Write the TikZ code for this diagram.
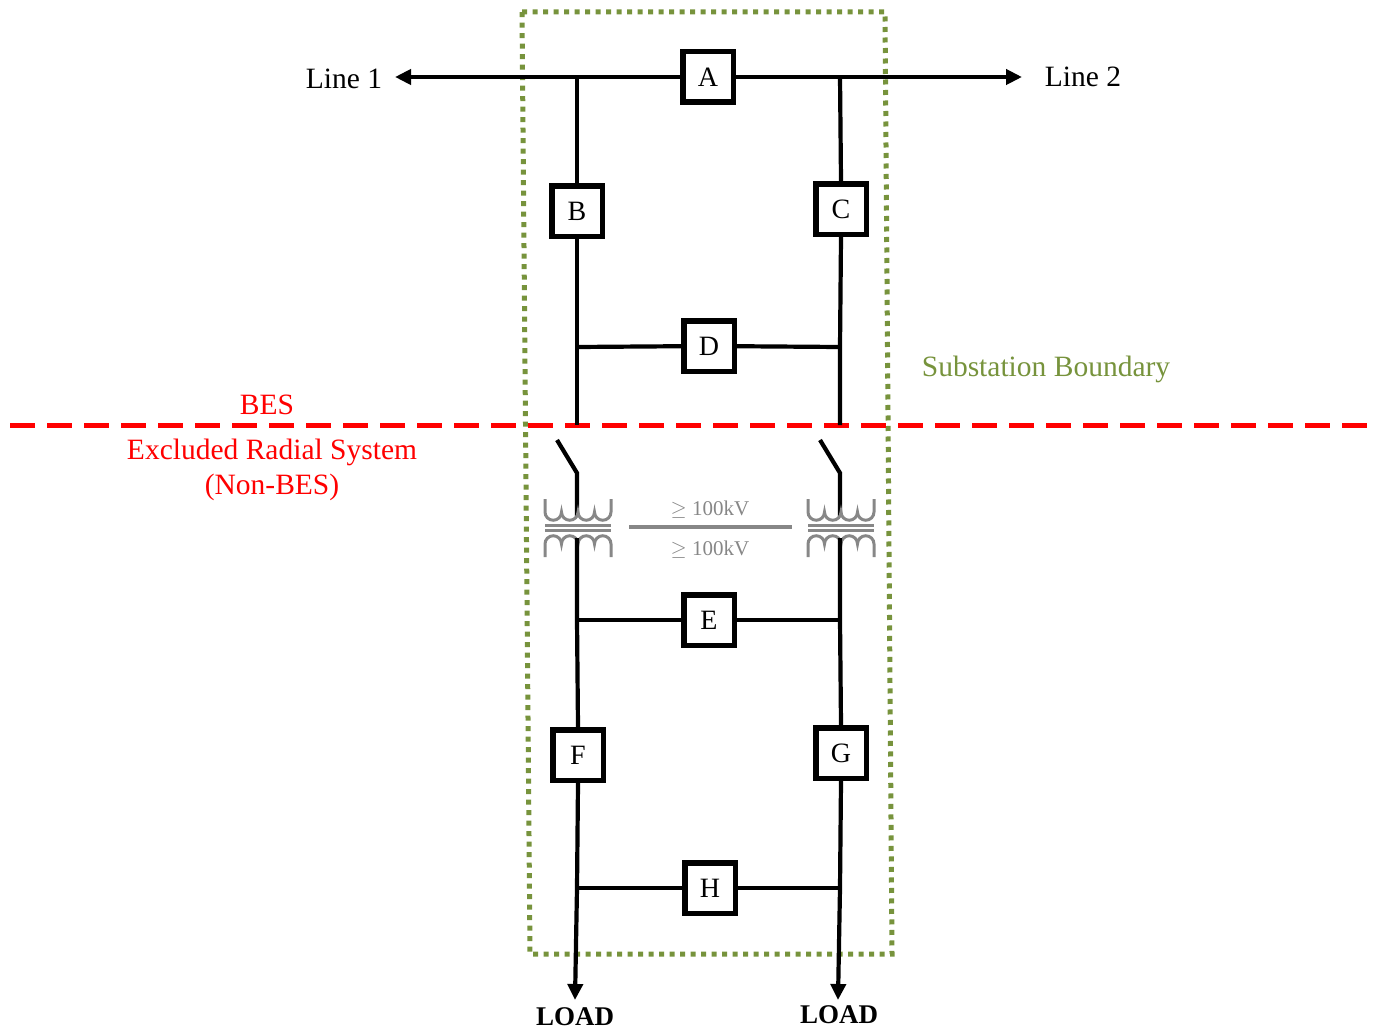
\documentclass[tikz,border=0pt]{standalone}
\usepackage{fontspec}
\setmainfont{Liberation Serif}
\usetikzlibrary{arrows.meta}
\definecolor{subgreen}{RGB}{119,147,60}
\definecolor{xfgray}{RGB}{135,135,135}
\tikzset{
  wire/.style={line width=4.2pt},
  arr/.style={wire,-{Triangle[length=16pt,width=15pt]}},
  brk/.style={draw,line width=5.5pt,minimum size=50.5pt,inner sep=0pt,font=\fontsize{28}{30}\selectfont},
  lbl/.style={font=\fontsize{29.5}{32}\selectfont}
}
\newcommand{\brkr}[4]{\node[brk] (#1) at ( #2 , #3 ) {#4};}
\newcommand{\jnct}[3]{\coordinate (#1) at ( #2 , #3 );}
\newcommand{\xfmr}[2]{\begin{scope}[shift={( #1 , #2 )},xfgray,line width=3pt]
  \draw (-33,28.5) -- (-33,15.5) arc(180:360:8.25) arc(180:360:8.25) arc(180:360:8.25) arc(180:360:8.25) -- (33,28.5);
  \draw (-33,-29.5) -- (-33,-16.5) arc(180:0:8.25) arc(180:0:8.25) arc(180:0:8.25) arc(180:0:8.25) -- (33,-29.5);
  \draw (-33,2.5) -- (33,2.5);
  \draw (-33,-2.5) -- (33,-2.5);
\end{scope}}

\begin{document}
\begin{tikzpicture}[x=1pt,y=1pt]
\useasboundingbox (0,0) rectangle (1380,-1030);
% substation boundary and BES line
\draw[subgreen,line width=5pt,dash pattern=on 5pt off 5.5pt] (522,-12) -- (885,-12) -- (892,-954) -- (530,-954) -- cycle;
\draw[red,line width=5pt,dash pattern=on 25pt off 12pt] (10,-425) -- (1378,-425);
% breakers
\brkr{A}{708}{-77}{A}
\brkr{B}{577}{-211}{B}
\brkr{C}{841}{-209}{C}
\brkr{D}{709}{-346}{D}
\brkr{E}{709}{-620}{E}
\brkr{F}{578}{-755}{F}
\brkr{G}{841}{-753}{G}
\brkr{H}{710}{-888}{H}
% junctions, left side
\jnct{j1}{577}{-77}
\jnct{d1}{577}{-347}
\jnct{b1}{577}{-425}
\jnct{s1}{557}{-440}
\jnct{t1}{577}{-473}
\jnct{u1}{577}{-517}
\jnct{v1}{577}{-538}
\jnct{e1}{577}{-620}
\jnct{h1}{577}{-888}
\jnct{o1}{575}{-1000}
% junctions, right side
\jnct{j2}{840}{-77}
\jnct{d2}{840}{-347}
\jnct{b2}{840}{-425}
\jnct{s2}{820}{-440}
\jnct{t2}{840}{-473}
\jnct{u2}{840}{-517}
\jnct{v2}{840}{-538}
\jnct{e2}{840}{-620}
\jnct{h2}{840}{-888}
\jnct{o2}{838}{-1000}
% line ends
\jnct{l1}{395}{-77}
\jnct{l2}{1022}{-77}
% bus and feeders
\draw[arr] (A.west) -- (j1) -- (l1);
\draw[arr] (A.east) -- (j2) -- (l2);
\draw[wire] (j1) -- (B.north);
\draw[wire] (B.south) -- (d1) -- (b1);
\draw[wire] (j2) -- (C.north);
\draw[wire] (C.south) -- (d2) -- (b2);
\draw[wire] (d1) -- (D) -- (d2);
% switches
\draw[wire] (s1) -- (t1) -- (u1);
\draw[wire] (s2) -- (t2) -- (u2);
% transformers
\xfmr{578}{-527.5}
\xfmr{841}{-527.5}
\jnct{g1}{629}{-527}
\jnct{g2}{792}{-527}
\draw[xfgray,line width=4pt] (g1) -- (g2);
\node[xfgray,font=\fontsize{21}{23}\selectfont] (hv) at (710,-510) {$\geq$ 100kV};
\node[xfgray,font=\fontsize{21}{23}\selectfont] (lv) at (710,-550) {$\geq$ 100kV};
% lower part
\draw[wire] (v1) -- (e1) -- (F.north);
\draw[wire] (v2) -- (e2) -- (G.north);
\draw[wire] (e1) -- (E) -- (e2);
\draw[arr] (F.south) -- (h1) -- (o1);
\draw[arr] (G.south) -- (h2) -- (o2);
\draw[wire] (h1) -- (H) -- (h2);
% labels
\node[lbl] (line1) at (344,-79) {Line 1};
\node[lbl] (line2) at (1083,-77) {Line 2};
\node[lbl,red] (bes) at (267,-405) {BES};
\node[lbl,red] (ers) at (272,-452) {Excluded Radial System};
\node[lbl,red] (nbes) at (272,-487) {(Non-BES)};
\node[lbl,subgreen] (sub) at (1046,-369) {Substation Boundary};
\node[font=\fontsize{27}{29}\selectfont\bfseries] (load1) at (575,-1017) {LOAD};
\node[font=\fontsize{27}{29}\selectfont\bfseries] (load2) at (839,-1015) {LOAD};
\end{tikzpicture}
\end{document}
